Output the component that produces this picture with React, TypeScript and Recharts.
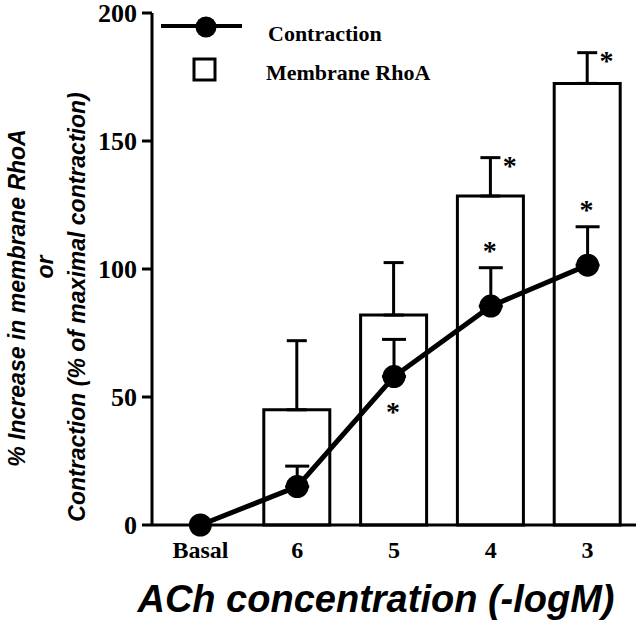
import React from 'react';
import { ComposedChart, Bar, Line, XAxis, YAxis, ErrorBar } from 'recharts';

const categories = ['Basal', '6', '5', '4', '3'];
const rhoaValues: (number | null)[] = [null, 45, 82, 128.5, 172.5];
const rhoaErrors: (number | null)[] = [null, 27, 20.5, 15, 12];
const rhoaSig = [false, false, false, true, true];
const contractionValues = [0, 15, 58, 85.5, 101.5];
const contractionErrors: (number | null)[] = [null, 8, 14.5, 15, 15];
const contractionSig = ['', '', 'below', 'above', 'above'];
const yTicks = [0, 50, 100, 150, 200];

const data = categories.map((c, i) => ({
  cat: c,
  rhoa: rhoaValues[i],
  rhoaErr: rhoaErrors[i] == null ? null : [0, rhoaErrors[i] as number],
  contraction: contractionValues[i],
  contractionErr: contractionErrors[i] == null ? null : [0, contractionErrors[i] as number],
  rhoaStar: rhoaSig[i] ? (rhoaValues[i] as number) + (rhoaErrors[i] as number) : null,
  contractionStar:
    contractionSig[i] === 'above'
      ? contractionValues[i] + (contractionErrors[i] as number)
      : contractionSig[i] === 'below'
      ? contractionValues[i]
      : null,
  contractionSigPos: contractionSig[i],
}));

const SERIF = '"Liberation Serif", "Times New Roman", serif';
const SANS = '"Liberation Sans", Arial, sans-serif';

const BarStar = (props: any) => {
  const { cx, cy } = props;
  if (cx == null || cy == null || props.payload.rhoaStar == null) return <g key={props.key} />;
  return (
    <text key={props.key} x={cx + 19} y={cy + 17} textAnchor="middle" fontFamily={SERIF} fontWeight="bold" fontSize={28} fill="#000">
      *
    </text>
  );
};

const LineStar = (props: any) => {
  const { cx, cy, payload } = props;
  if (cx == null || cy == null || payload.contractionStar == null) return <g key={props.key} />;
  const dy = payload.contractionSigPos === 'below' ? 44 : -8;
  return (
    <text key={props.key} x={cx - 1} y={cy + dy} textAnchor="middle" fontFamily={SERIF} fontWeight="bold" fontSize={28} fill="#000">
      *
    </text>
  );
};

const YLabel = () => (
  <g fontFamily={SANS} fontWeight="bold" fontStyle="italic" fontSize={23} fill="#000">
    <text transform="translate(25,298) rotate(-90)" textAnchor="middle">% Increase in membrane RhoA</text>
    <text transform="translate(53,267) rotate(-90)" textAnchor="middle">or</text>
    <text transform="translate(85,307) rotate(-90)" textAnchor="middle">Contraction (% of maximal contraction)</text>
    {/* legend */}
    <line x1={161} y1={26} x2={242} y2={26} stroke="#000" strokeWidth={4} />
    <circle cx={206} cy={27} r={10.5} fill="#000" />
    <text x={268} y={41} fontFamily={SERIF} fontStyle="normal" fontSize={22}>Contraction</text>
    <rect x={194} y={59} width={21} height={21} fill="#fff" stroke="#000" strokeWidth={3} />
    <text x={266} y={80} fontFamily={SERIF} fontStyle="normal" fontSize={22}>Membrane RhoA</text>
  </g>
);

const XLabel = () => (
  <text x={376} y={612} textAnchor="middle" fontFamily={SANS} fontWeight="bold" fontStyle="italic" fontSize={38} fill="#000">
    ACh concentration (-logM)
  </text>
);

export default function App() {
  return (
    <div style={{ position: 'absolute', left: 0, top: 0, width: 640, height: 626, background: '#fff' }}>
      <ComposedChart width={640} height={626} data={data} margin={{ top: 13, right: 4, bottom: 0, left: 0 }}>
        <XAxis
          dataKey="cat"
          height={101}
          axisLine={{ stroke: '#000', strokeWidth: 3 }}
          tickLine={false}
          tickSize={0}
          tickMargin={16}
          tick={{ fill: '#000', fontFamily: SERIF, fontWeight: 'bold', fontSize: 24 }}
          label={{ content: () => <XLabel /> }}
        />
        <YAxis
          width={152}
          domain={[0, 200]}
          ticks={yTicks}
          interval={0}
          axisLine={{ stroke: '#000', strokeWidth: 3 }}
          tickLine={{ stroke: '#000', strokeWidth: 3 }}
          tickSize={10}
          tickMargin={5}
          tick={{ fill: '#000', fontFamily: SERIF, fontWeight: 'bold', fontSize: 26 }}
          label={{ content: () => <YLabel /> }}
        />
        <Bar dataKey="rhoa" barSize={66} fill="#fff" stroke="#000" strokeWidth={3} isAnimationActive={false}>
          <ErrorBar dataKey="rhoaErr" width={10} stroke="#000" strokeWidth={3} direction="y" />
        </Bar>
        <Line
          dataKey="contraction"
          stroke="#000"
          strokeWidth={5}
          dot={{ r: 11.5, fill: '#000', stroke: '#000', strokeWidth: 0 }}
          activeDot={false}
          isAnimationActive={false}
        >
          <ErrorBar dataKey="contractionErr" width={12} stroke="#000" strokeWidth={3} direction="y" />
        </Line>
        <Line dataKey="rhoaStar" stroke="none" dot={BarStar} activeDot={false} legendType="none" isAnimationActive={false} />
        <Line dataKey="contractionStar" stroke="none" dot={LineStar} activeDot={false} legendType="none" isAnimationActive={false} />
      </ComposedChart>
    </div>
  );
}
